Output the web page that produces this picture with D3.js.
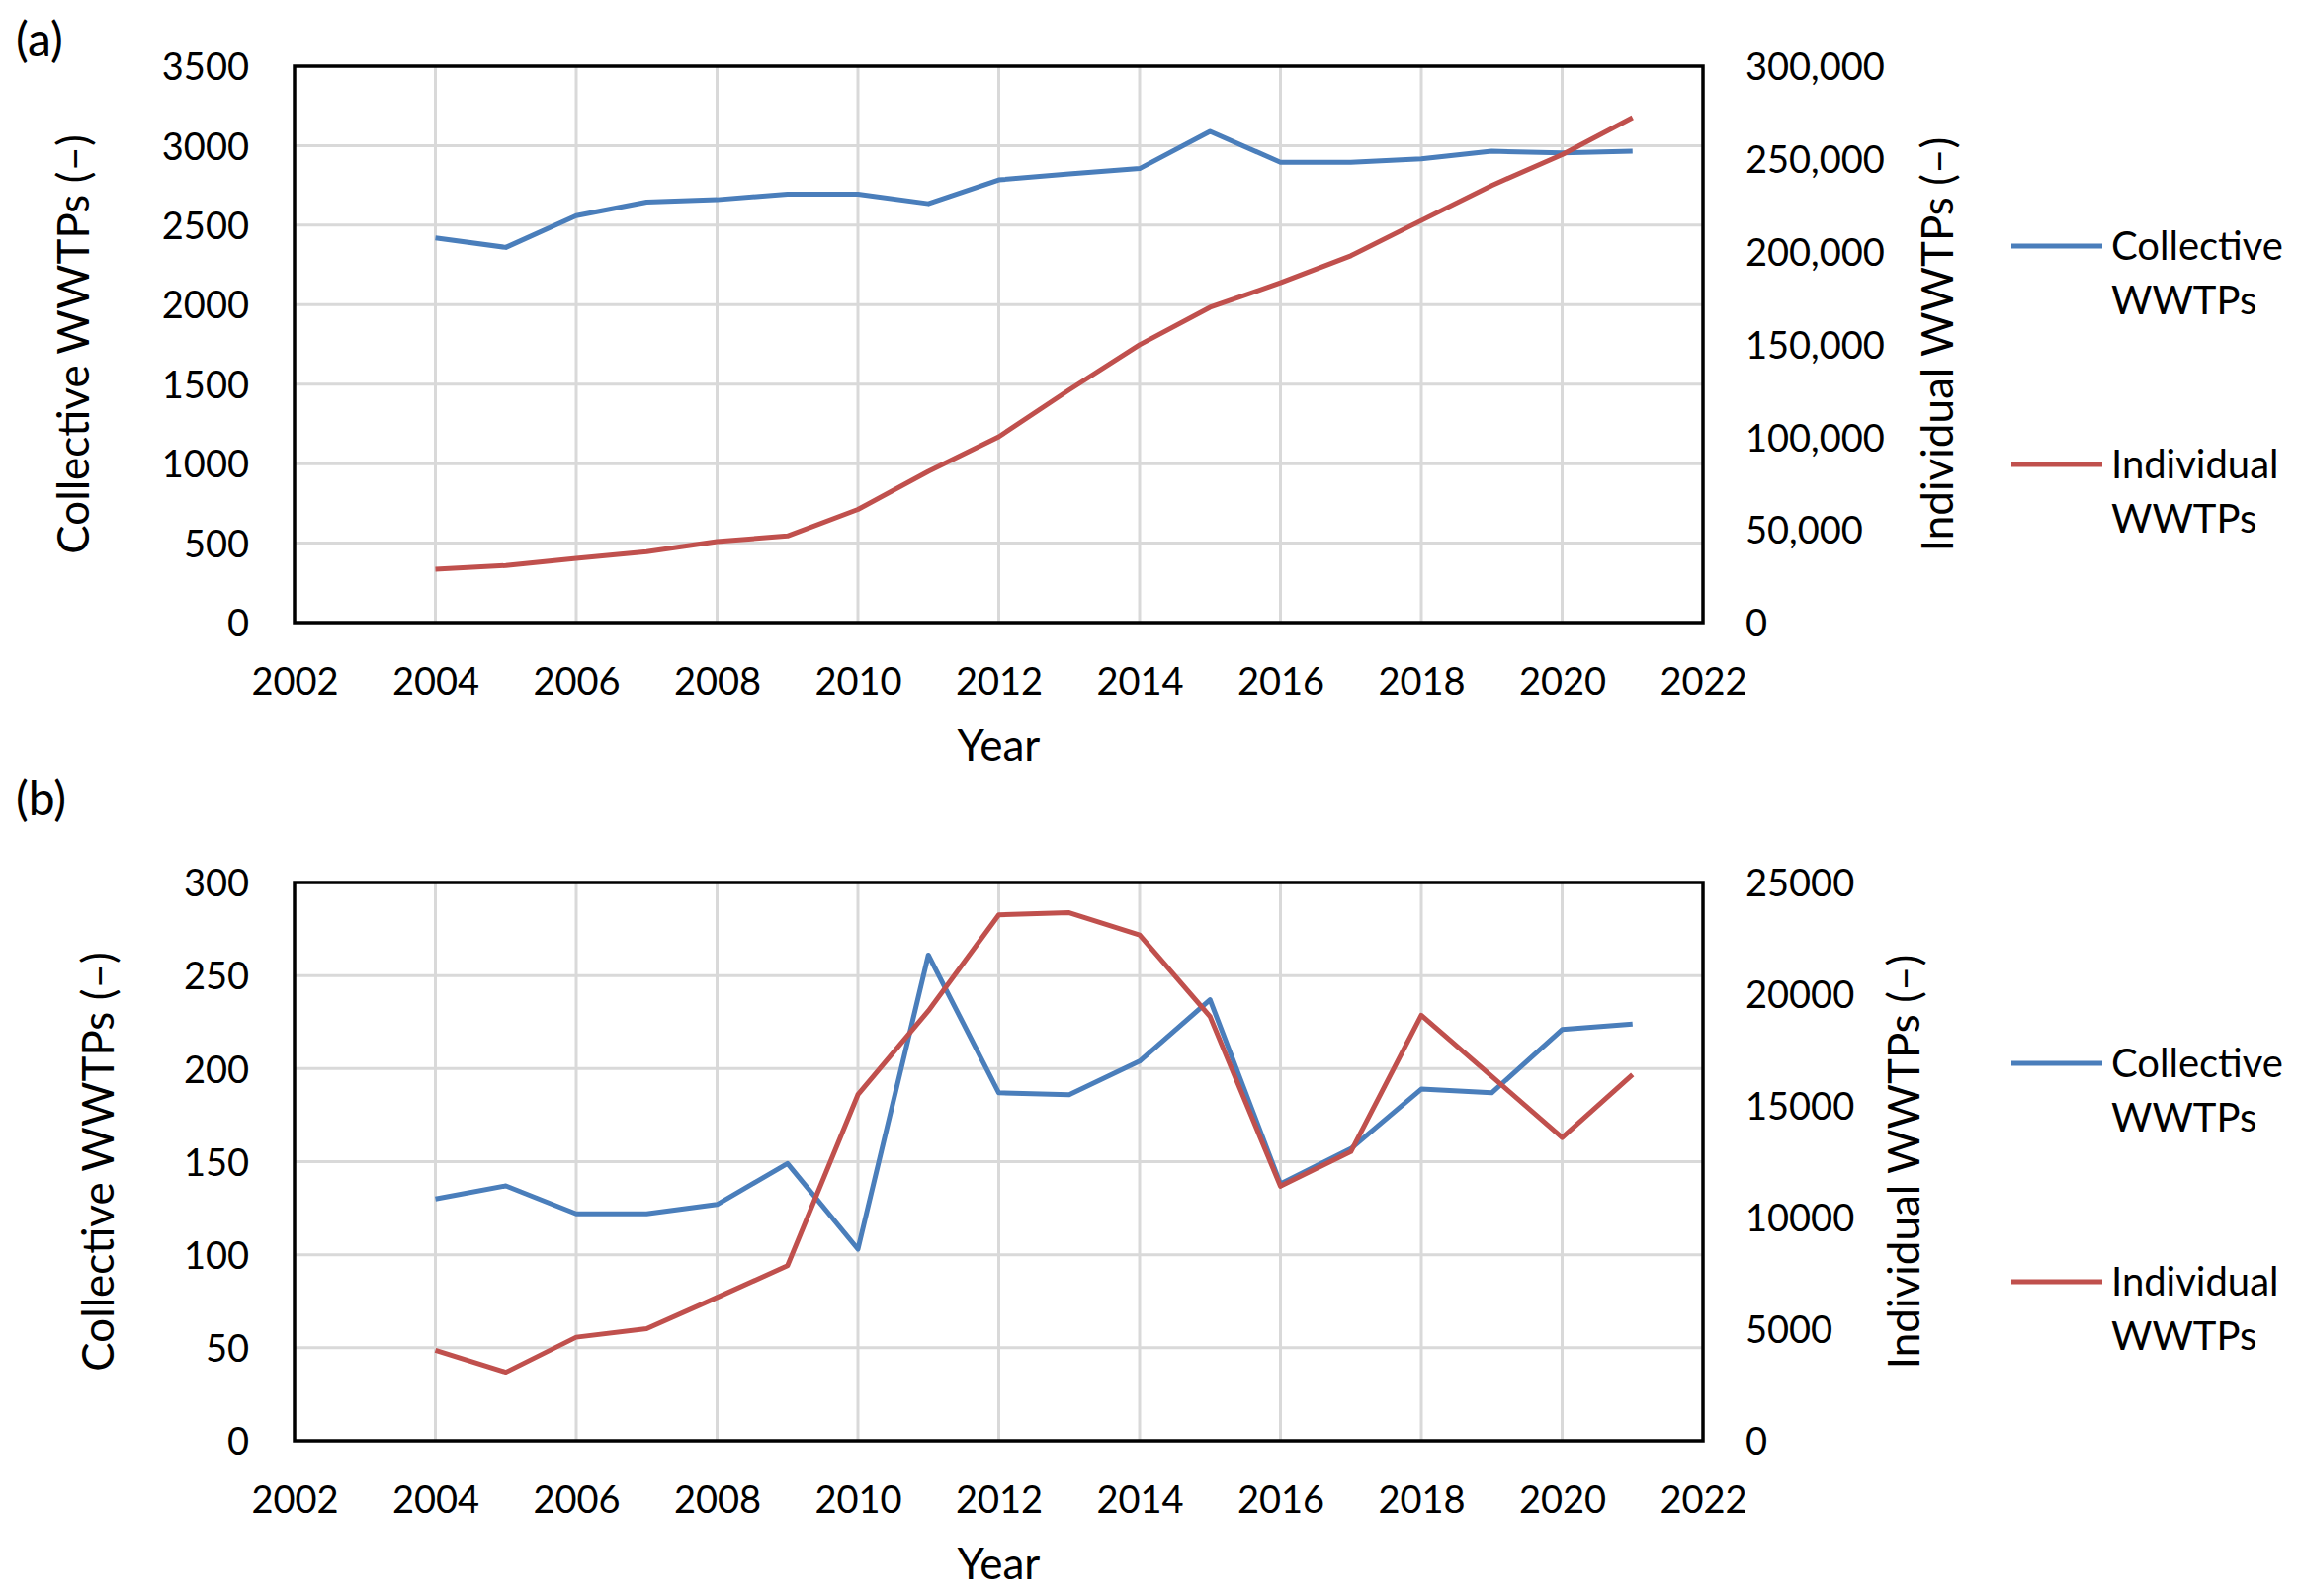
<!DOCTYPE html>
<html>
<head>
<meta charset="utf-8">
<script src="https://cdn.jsdelivr.net/npm/d3@7"></script>
<style>
  html, body { margin: 0; padding: 0; background: #fff; }
  svg text { font-family: Lato, "Open Sans", sans-serif; fill: #000; }
</style>
</head>
<body>
<svg id="chart" width="2325" height="1615"></svg>
<script>
// ---------- data ----------
const years = [2004,2005,2006,2007,2008,2009,2010,2011,2012,2013,2014,2015,2016,2017,2018,2019,2020,2021];

// Panel (a): totals
const collectiveA = [2420,2360,2560,2645,2660,2695,2695,2635,2785,2822,2856,3090,2895,2895,2917,2965,2955,2965];
const individualA = [28800,30800,34600,38200,43700,46700,61000,81500,100200,125500,149800,170000,183200,197800,216800,235700,252300,272300];

// Panel (b): annual additions
const collectiveB = [130,137,122,122,127,149,103,261,187,186,204,237,138,157,189,187,221,224];
const individualB = [4050,3070,4640,5020,6420,7840,15500,19250,23550,23650,22650,19000,11400,12950,19050,16320,13580,16400];

const xTicks = [2002,2004,2006,2008,2010,2012,2014,2016,2018,2020,2022];
const leftTicksA = [0,500,1000,1500,2000,2500,3000,3500];
const rightTicksA = [0,50000,100000,150000,200000,250000,300000];
const leftTicksB = [0,50,100,150,200,250,300];
const rightTicksB = [0,5000,10000,15000,20000,25000];

const seriesNames = ["Collective WWTPs", "Individual WWTPs"];
const colors = ["#4A7EBB", "#C0504D"];

// ---------- drawing ----------
const svg = d3.select("#chart");
const FS = 38;      // tick labels
const FS_T = 44;    // axis titles
const FS_L = 40;    // legend
const FS_P = 48;    // panel labels

function panel(cfg) {
  const {top, bottom, label, labelY, leftMax, rightMax, leftTicks, rightTicks, rightFmt,
         coll, indiv, leftTitleX, rightTitleX, legendY1, legendY2} = cfg;
  const left = 298, right = 1723;
  const x = d3.scaleLinear().domain([2002, 2022]).range([left, right]);
  const yL = d3.scaleLinear().domain([0, leftMax]).range([bottom, top]);
  const yR = d3.scaleLinear().domain([0, rightMax]).range([bottom, top]);
  const g = svg.append("g");

  // gridlines
  g.append("g").selectAll("line.h").data(leftTicks.filter(t => t > 0 && t < leftMax)).join("line")
    .attr("x1", left).attr("x2", right).attr("y1", d => yL(d)).attr("y2", d => yL(d))
    .attr("stroke", "#d9d9d9").attr("stroke-width", 3);
  g.append("g").selectAll("line.v").data(xTicks.filter(t => t > 2002 && t < 2022)).join("line")
    .attr("x1", d => x(d)).attr("x2", d => x(d)).attr("y1", top).attr("y2", bottom)
    .attr("stroke", "#d9d9d9").attr("stroke-width", 3);

  // plot border
  g.append("rect").attr("x", left).attr("y", top).attr("width", right - left).attr("height", bottom - top)
    .attr("fill", "none").attr("stroke", "#000").attr("stroke-width", 3.5);

  // axes (labels only, via d3 axes)
  const axB = g.append("g").attr("transform", `translate(0,${bottom})`)
    .call(d3.axisBottom(x).tickValues(xTicks).tickFormat(d3.format("d")).tickSize(0).tickPadding(0));
  axB.select(".domain").remove();
  axB.selectAll("text").attr("dy", null).attr("y", 73).attr("font-size", FS).attr("font-family", null);

  const axL = g.append("g").attr("transform", `translate(252,0)`)
    .call(d3.axisLeft(yL).tickValues(leftTicks).tickFormat(d3.format("d")).tickSize(0).tickPadding(0));
  axL.select(".domain").remove();
  axL.selectAll("text").attr("dy", "0.36em").attr("x", 0).attr("font-size", FS).attr("font-family", null);

  const axR = g.append("g").attr("transform", `translate(1766,0)`)
    .call(d3.axisRight(yR).tickValues(rightTicks).tickFormat(rightFmt).tickSize(0).tickPadding(0));
  axR.select(".domain").remove();
  axR.selectAll("text").attr("dy", "0.36em").attr("x", 0).attr("font-size", FS).attr("font-family", null);

  // lines
  const lineL = d3.line().x((d, i) => x(years[i])).y(d => yL(d));
  const lineR = d3.line().x((d, i) => x(years[i])).y(d => yR(d));
  g.append("path").datum(coll).attr("d", lineL).attr("fill", "none")
    .attr("stroke", colors[0]).attr("stroke-width", 5).attr("stroke-linejoin", "round");
  g.append("path").datum(indiv).attr("d", lineR).attr("fill", "none")
    .attr("stroke", colors[1]).attr("stroke-width", 5).attr("stroke-linejoin", "round");

  // axis titles
  const midY = (top + bottom) / 2;
  g.append("text").attr("transform", `translate(${leftTitleX},${midY}) rotate(-90)`)
    .attr("text-anchor", "middle").attr("dy", "0.36em").attr("font-size", FS_T).text("Collective WWTPs (–)");
  g.append("text").attr("transform", `translate(${rightTitleX},${midY}) rotate(-90)`)
    .attr("text-anchor", "middle").attr("dy", "0.36em").attr("font-size", FS_T).text("Individual WWTPs (–)");
  g.append("text").attr("x", (left + right) / 2).attr("y", bottom + 140)
    .attr("text-anchor", "middle").attr("font-size", FS_T).text("Year");

  // panel label
  g.append("text").attr("x", 16).attr("y", labelY).attr("font-size", FS_P).text(label);

  // legend
  [legendY1, legendY2].forEach((ly, i) => {
    g.append("line").attr("x1", 2035).attr("x2", 2127).attr("y1", ly).attr("y2", ly)
      .attr("stroke", colors[i]).attr("stroke-width", 5);
    const words = seriesNames[i].split(" ");
    const t = g.append("text").attr("x", 2136).attr("y", ly + 14).attr("font-size", FS_L);
    t.append("tspan").attr("x", 2136).attr("dy", 0).text(words[0]);
    t.append("tspan").attr("x", 2136).attr("dy", 55).text(words[1]);
  });
}

panel({
  top: 67, bottom: 630, label: "(a)", labelY: 57,
  leftMax: 3500, rightMax: 300000, leftTicks: leftTicksA, rightTicks: rightTicksA,
  rightFmt: d3.format(","), coll: collectiveA, indiv: individualA,
  leftTitleX: 74, rightTitleX: 1960, legendY1: 249, legendY2: 470
});
panel({
  top: 893, bottom: 1458, label: "(b)", labelY: 825,
  leftMax: 300, rightMax: 25000, leftTicks: leftTicksB, rightTicks: rightTicksB,
  rightFmt: d3.format("d"), coll: collectiveB, indiv: individualB,
  leftTitleX: 99, rightTitleX: 1926, legendY1: 1076, legendY2: 1297
});
</script>
</body>
</html>
